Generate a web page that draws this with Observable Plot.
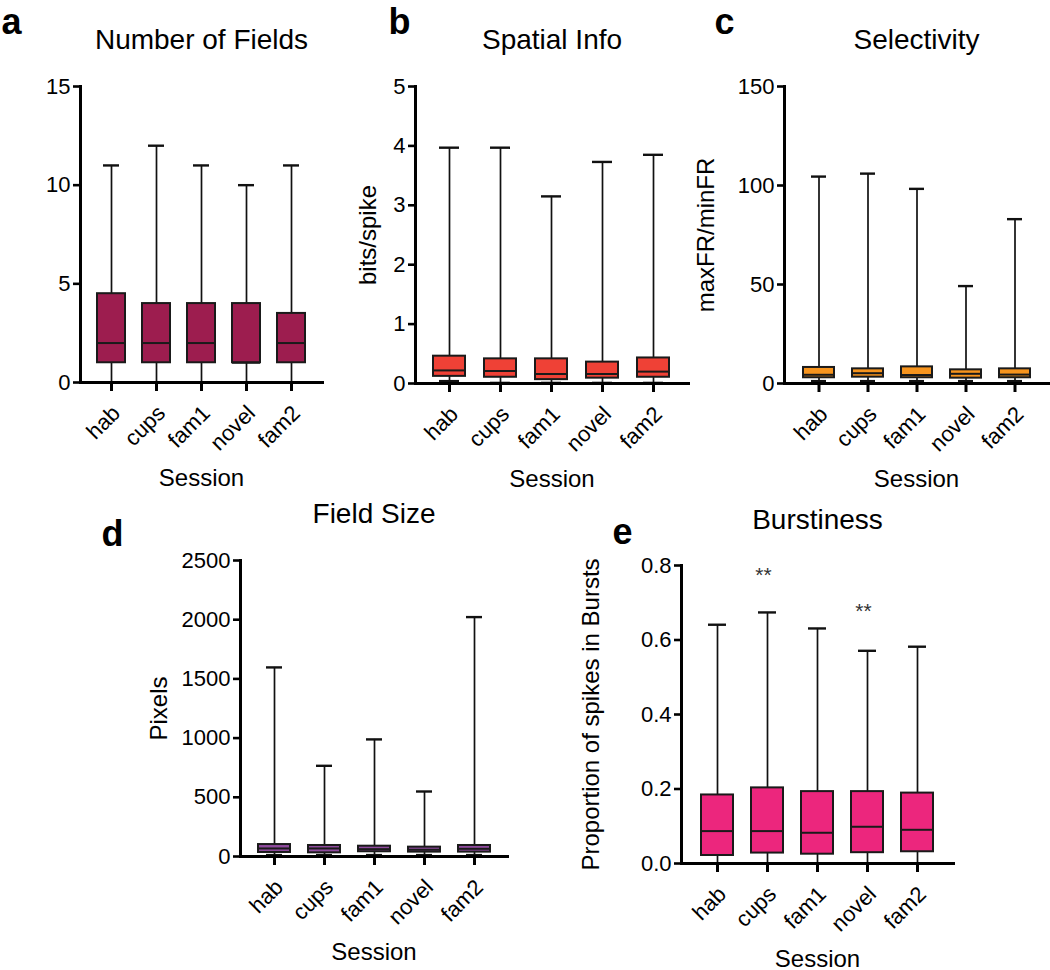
<!DOCTYPE html>
<html>
<head>
<meta charset="utf-8">
<script src="https://cdn.jsdelivr.net/npm/d3@7"></script>
<script src="https://cdn.jsdelivr.net/npm/@observablehq/plot@0.6"></script>
<style>
  body { margin: 0; background: #fff; }
  #wrap { position: relative; width: 1050px; height: 970px; overflow: hidden; background: #fff; }
  .panel { position: absolute; }
</style>
</head>
<body>
<div id="wrap"></div>
<script>
// ---------- data ----------
const sessions = ["hab", "cups", "fam1", "novel", "fam2"];

// a: Number of Fields
const fieldsMin    = [0, 0, 0, 0, 0];
const fieldsQ1     = [1, 1, 1, 1, 1];
const fieldsMedian = [2, 2, 2, 1, 2];
const fieldsQ3     = [4.5, 4, 4, 4, 3.5];
const fieldsMax    = [11, 12, 11, 10, 11];
const fieldsTicks  = [0, 5, 10, 15];

// b: Spatial Info (bits/spike)
const infoMin    = [0.04, 0.01, 0.01, 0.01, 0.01];
const infoQ1     = [0.12, 0.105, 0.065, 0.09, 0.105];
const infoMedian = [0.22, 0.21, 0.16, 0.16, 0.2];
const infoQ3     = [0.46, 0.415, 0.415, 0.36, 0.43];
const infoMax    = [3.97, 3.97, 3.15, 3.73, 3.85];
const infoTicks  = [0, 1, 2, 3, 4, 5];

// c: Selectivity (maxFR/minFR)
const selMin    = [1.2, 1.2, 1.2, 1.2, 1.2];
const selQ1     = [2.9, 3.2, 2.9, 2.7, 2.9];
const selMedian = [4.4, 5.2, 4.3, 4.9, 4.5];
const selQ3     = [8.1, 7.4, 8.4, 6.9, 7.4];
const selMax    = [104.5, 106, 98.3, 49.2, 83];
const selTicks  = [0, 50, 100, 150];

// d: Field Size (pixels)
const sizeMin    = [12, 12, 12, 12, 12];
const sizeQ1     = [34, 31, 40, 37, 37];
const sizeMedian = [68, 68, 62, 57, 65];
const sizeQ3     = [101, 93, 87, 79, 93];
const sizeMax    = [1597, 766, 989, 549, 2022];
const sizeTicks  = [0, 500, 1000, 1500, 2000, 2500];

// e: Burstiness
const burstMin    = [0, 0, 0, 0, 0];
const burstQ1     = [0.0215, 0.028, 0.025, 0.029, 0.0315];
const burstMedian = [0.087, 0.087, 0.0825, 0.0986, 0.0905];
const burstQ3     = [0.184, 0.203, 0.193, 0.193, 0.189];
const burstMax    = [0.641, 0.674, 0.631, 0.571, 0.582];
const burstTicks  = [0, 0.2, 0.4, 0.6, 0.8];
const starSessions = ["cups", "novel"];
const starY        = [0.789, 0.694];
const starLabels   = ["**", "**"];

// ---------- helpers ----------
const FONT = '"Liberation Sans", Arial, Helvetica, sans-serif';
const plainFormat = d => String(d);

function rows(mins, q1s, meds, q3s, maxs) {
  return sessions.map((s, i) => ({session: s, min: mins[i], q1: q1s[i], median: meds[i], q3: q3s[i], max: maxs[i]}));
}

function panel(o) {
  const data = rows(...o.stats);
  const marks = [
    Plot.ruleX(data, {x: "session", y1: "min", y2: "max", stroke: "#111", strokeWidth: 1.7}),
    Plot.tickY(data, {x: "session", y: "max", stroke: "#111", strokeWidth: 2.4, insetLeft: o.capInset, insetRight: o.capInset}),
    Plot.tickY(data, {x: "session", y: "min", stroke: "#111", strokeWidth: 2.4, insetLeft: o.capInset, insetRight: o.capInset}),
    Plot.barY(data, {x: "session", y1: "q1", y2: "q3", fill: o.color, stroke: "#1a1a1a", strokeWidth: 2}),
    Plot.tickY(data, {x: "session", y: "median", stroke: "#1a1a1a", strokeWidth: 2}),
    Plot.axisY({ticks: o.ticks, tickSize: 7, tickPadding: 3, strokeWidth: 2.6, label: null, tickFormat: o.fmt || plainFormat, fontSize: 22}),
    Plot.axisX({tickSize: 9, strokeWidth: 3, label: null, tickFormat: () => ""}),
    Plot.text(sessions, {x: d => d, frameAnchor: "bottom", rotate: -45, textAnchor: "end", lineAnchor: "middle", dx: 5, dy: 27, fontSize: 22}),
    Plot.frame({anchor: "left", strokeWidth: 3, stroke: "#000"}),
    Plot.frame({anchor: "bottom", strokeWidth: 3, stroke: "#000"}),
    Plot.text([o.title], {frameAnchor: "top", lineAnchor: "bottom", dy: o.titleDy, fontSize: 28}),
    Plot.text(["Session"], {frameAnchor: "bottom", lineAnchor: "bottom", dy: 103, fontSize: 24}),
    Plot.text([o.letter], {frameAnchor: "top-left", textAnchor: "start", lineAnchor: "bottom", dx: o.letterDx, dy: o.letterDy, fontSize: 36, fontWeight: "bold"})
  ];
  if (o.ylabel) {
    marks.push(Plot.text([o.ylabel], {frameAnchor: "left", rotate: -90, textAnchor: "middle", lineAnchor: "middle", dx: o.ylabelDx, fontSize: 24}));
  }
  if (o.extra) marks.push(...o.extra);
  const svg = Plot.plot({
    width: o.width, height: o.height,
    marginLeft: o.ml, marginRight: o.mr, marginTop: o.mt, marginBottom: o.mb,
    style: {fontFamily: FONT, fontSize: "22px", color: "#000", background: "transparent", overflow: "visible"},
    x: {type: "band", domain: sessions, paddingInner: o.pi, paddingOuter: o.po, label: null},
    y: {domain: o.domain, label: null},
    marks
  });
  const div = document.createElement("div");
  div.className = "panel";
  div.style.left = o.left + "px";
  div.style.top = o.top + "px";
  div.appendChild(svg);
  document.getElementById("wrap").appendChild(div);
}

// ---------- panels ----------
panel({
  left: 0, top: 0, width: 350, height: 490, ml: 80, mr: 28, mt: 86, mb: 108,
  pi: 0.37, po: 0.35, capInset: 6, color: "#9d1d4f",
  stats: [fieldsMin, fieldsQ1, fieldsMedian, fieldsQ3, fieldsMax],
  domain: [0, 15], ticks: fieldsTicks,
  title: "Number of Fields", titleDy: -38, letter: "a", letterDx: -79, letterDy: -53
});

panel({
  left: 350, top: 0, width: 350, height: 490, ml: 65, mr: 12, mt: 86, mb: 107,
  pi: 0.37, po: 0.35, capInset: 6, color: "#ef4136",
  stats: [infoMin, infoQ1, infoMedian, infoQ3, infoMax],
  domain: [0, 5], ticks: infoTicks,
  title: "Spatial Info", titleDy: -38, letter: "b", letterDx: -27, letterDy: -53,
  ylabel: "bits/spike", ylabelDx: -47
});

panel({
  left: 690, top: 0, width: 360, height: 490, ml: 94, mr: 2, mt: 86, mb: 107,
  pi: 0.37, po: 0.35, capInset: 8, color: "#f7941d",
  stats: [selMin, selQ1, selMedian, selQ3, selMax],
  domain: [0, 150], ticks: selTicks,
  title: "Selectivity", titleDy: -38, letter: "c", letterDx: -70, letterDy: -53,
  ylabel: "maxFR/minFR", ylabelDx: -78
});

panel({
  left: 0, top: 490, width: 510, height: 480, ml: 240, mr: 3, mt: 70, mb: 114,
  pi: 0.36, po: 0.34, capInset: 8, color: "#8f4a9e",
  stats: [sizeMin, sizeQ1, sizeMedian, sizeQ3, sizeMax],
  domain: [0, 2500], ticks: sizeTicks,
  title: "Field Size", titleDy: -38, letter: "d", letterDx: -139, letterDy: -15,
  ylabel: "Pixels", ylabelDx: -81
});

panel({
  left: 510, top: 490, width: 540, height: 480, ml: 171, mr: 97, mt: 75, mb: 107,
  pi: 0.365, po: 0.377, capInset: 7, color: "#ec267d",
  stats: [burstMin, burstQ1, burstMedian, burstQ3, burstMax],
  domain: [0, 0.8], ticks: burstTicks, fmt: d3.format(".1f"),
  title: "Burstiness", titleDy: -37, letter: "e", letterDx: -69, letterDy: -22,
  ylabel: "Proportion of spikes in Bursts", ylabelDx: -90,
  extra: [
    Plot.text(starSessions.map((s, i) => ({session: s, y: starY[i], label: starLabels[i]})),
      {x: "session", y: "y", text: "label", fontSize: 21, fill: "#333", dx: -4, dy: 6})
  ]
});
</script>
</body>
</html>
